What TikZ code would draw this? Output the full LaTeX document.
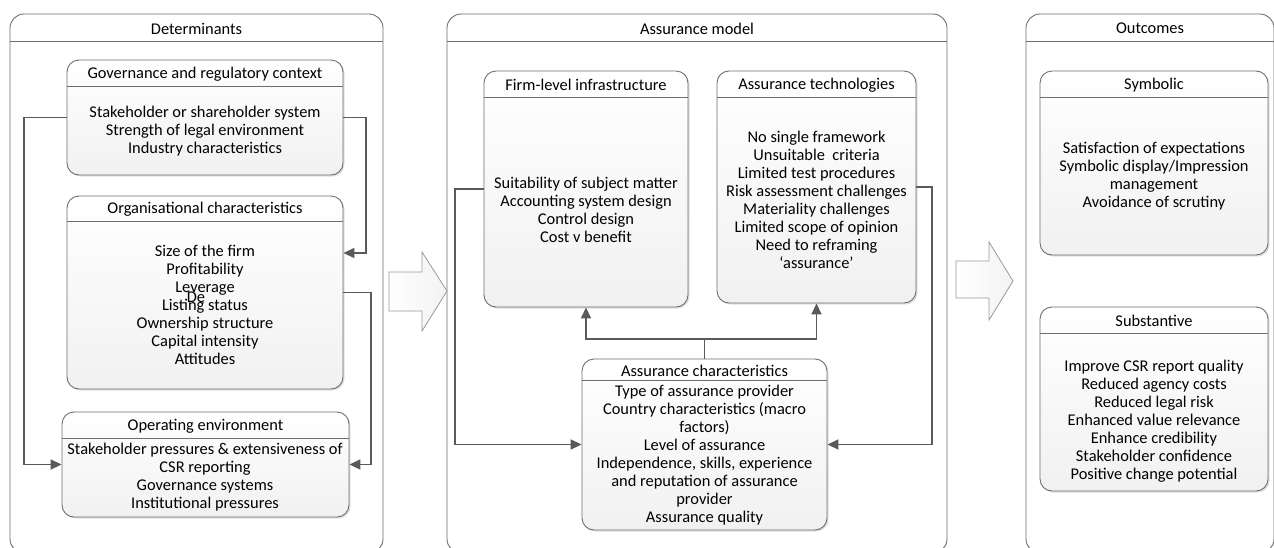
\documentclass[tikz,border=0pt]{standalone}
\usepackage{fontspec}
\setmainfont{Carlito}
\usetikzlibrary{arrows.meta,shadows,calc}
\definecolor{linec}{HTML}{5A5A5A}
\definecolor{boxc}{HTML}{6E6E6E}
\tikzset{
  txt/.style={font=\fontsize{16.4}{18}\selectfont, align=center, inner sep=0pt, text=black},
  panel/.style={draw=boxc, line width=0.9pt, rounded corners=12pt, top color=white, bottom color=gray!11,
     drop shadow={opacity=0.25, shadow xshift=1.5pt, shadow yshift=-1.5pt}, inner sep=0pt},
  container/.style={draw=boxc, line width=0.9pt, rounded corners=14pt, fill=white, inner sep=0pt},
  hline/.style={draw=boxc, line width=0.9pt},
  conn/.style={draw=linec, line width=1.7pt, -{Triangle[length=11pt,width=10pt]}},
  plainconn/.style={draw=linec, line width=1.7pt},
  blockarrow/.style={draw=gray!80, line width=0.8pt, left color=white, right color=gray!10},
}
\newcommand{\mkbox}[8]{% name, x1,y1,x2,y2, headerY, title, style
  \node[#8, minimum width={#4-#2}, minimum height={#5-#3}] (#1) at ({(#2+#4)/2},{(#3+#5)/2}) {};
  \draw[hline] (#2,#6) -- (#4,#6);
  \node[txt] (#1-title) at ({(#2+#4)/2},{(#3+#6)/2+1}) {#7};
}
\begin{document}
\begin{tikzpicture}[x=1pt,y=-1pt]
\useasboundingbox (0,0) rectangle (1274,547);
% containers
\mkbox{det}{10}{14}{383}{553}{41}{Determinants}{container}
\mkbox{am}{447}{14}{947}{553}{41}{Assurance model}{container}
\mkbox{out}{1026}{14}{1274}{553}{41}{Outcomes}{container}

% Determinants boxes
\mkbox{gov}{67}{60}{343}{175}{86}{Governance and regulatory context}{panel}
\node[txt] (govt) at (205,131) {Stakeholder or shareholder system\\Strength of legal environment\\Industry characteristics};
\mkbox{org}{67}{196}{343}{389}{221}{Organisational characteristics}{panel}
\node[txt] (orgt) at (205,305) {Size of the firm\\Profitability\\Leverage\\Listing status\\Ownership structure\\Capital intensity\\Attitudes};
\node[txt] (de) at (196,297) {De};
\mkbox{op}{62}{412}{349}{517}{438}{Operating environment}{panel}
\node[txt] (opt) at (205,477) {Stakeholder pressures \& extensiveness of\\CSR reporting\\Governance systems\\Institutional pressures};

% Assurance model boxes
\mkbox{firm}{484}{71}{688}{307}{97}{Firm-level infrastructure}{panel}
\node[txt] (firmt) at (586,210) {Suitability of subject matter\\Accounting system design\\Control design\\Cost v benefit};
\mkbox{tech}{717}{71}{916}{303}{97}{Assurance technologies}{panel}
\node[txt] (techt) at (816.5,200) {No single framework\\Unsuitable\ \ criteria\\Limited test procedures\\Risk assessment challenges\\Materiality challenges\\Limited scope of opinion\\Need to reframing\\`assurance'};
\mkbox{char}{582}{359}{827}{530}{380}{Assurance characteristics}{panel}
\node[txt] (chart) at (704.5,455) {Type of assurance provider\\Country characteristics (macro\\factors)\\Level of assurance\\Independence, skills, experience\\and reputation of assurance\\provider\\Assurance quality};

% Outcomes boxes
\mkbox{sym}{1040}{71}{1268}{255}{97}{Symbolic}{panel}
\node[txt] (symt) at (1154,176) {Satisfaction of expectations\\Symbolic display/Impression\\management\\Avoidance of scrutiny};
\mkbox{sub}{1040}{307}{1268}{491}{333}{Substantive}{panel}
\node[txt] (subt) at (1154,421) {Improve CSR report quality\\Reduced agency costs\\Reduced legal risk\\Enhanced value relevance\\Enhance credibility\\Stakeholder confidence\\Positive change potential};

% block arrows
\draw[blockarrow] (389,272) -- (422,272) -- (422,252) -- (447,291) -- (422,331) -- (422,311) -- (389,311) -- cycle;
\draw[blockarrow] (956,261) -- (989,261) -- (989,242) -- (1013,281) -- (989,320) -- (989,298) -- (956,298) -- cycle;

% connectors in Determinants
\draw[conn] (gov.west) -- (24,117.5) |- (op.west);
\draw[conn] (gov.east) -- (366,117.5) |- ([yshift=39.5pt]org.east);
\draw[conn] (org.east) -- (371,292.5) |- (op.east);

% connectors in Assurance model
\draw[plainconn] (char.north) -- (704.5,339);
\draw[conn] (704.5,339) -| (firm.south);
\draw[conn] (704.5,339) -| (tech.south);
\draw[conn] (firm.west) -- (455,189) |- (char.west);
\draw[conn] (tech.east) -- (932,187) |- (char.east);
\end{tikzpicture}
\end{document}
